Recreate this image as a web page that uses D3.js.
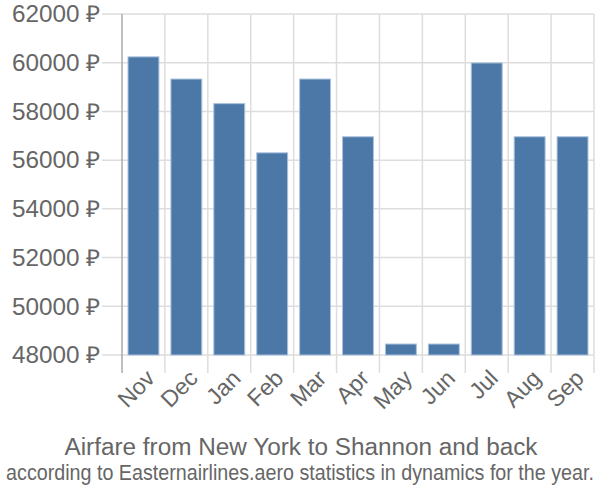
<!DOCTYPE html>
<html><head><meta charset="utf-8">
<script src="https://cdn.jsdelivr.net/npm/d3@7"></script>
<style>body{margin:0;background:#fff}svg{display:block;font-family:"Liberation Sans",Arial,sans-serif}</style>
</head><body><svg id="c" width="600" height="500"></svg>
<script>
const months = ["Nov","Dec","Jan","Feb","Mar","Apr","May","Jun","Jul","Aug","Sep"];
const prices = [60240,59330,58320,56300,59330,56960,48450,48450,59990,56960,56960];
const yTicks = [48000,50000,52000,54000,56000,58000,60000,62000];
const title = "Airfare from New York to Shannon and back";
const subtitle = "according to Easternairlines.aero statistics in dynamics for the year.";

const svg = d3.select("#c");
const L=122,R=594,T=14,B=355;
const x = d3.scaleBand().domain(months).range([L,R]).paddingInner(0.28).paddingOuter(0.14);
const xg = d3.scaleBand().domain(months).range([L,R]);
const y = d3.scaleLinear().domain([48000,62000]).range([B,T]);

// horizontal grid
svg.append("g").selectAll("line").data(yTicks).join("line")
  .attr("x1",102).attr("x2",R).attr("y1",d=>y(d)).attr("y2",d=>y(d))
  .attr("stroke","#ddd").attr("stroke-width",1.5);
// vertical grid
const vx = months.map(m=>xg(m)).concat([R]);
svg.append("g").selectAll("line").data(vx.slice(1)).join("line")
  .attr("x1",d=>d).attr("x2",d=>d).attr("y1",T).attr("y2",B+18)
  .attr("stroke","#ddd").attr("stroke-width",1.5);
// left axis line
svg.append("line").attr("x1",L).attr("x2",L).attr("y1",T).attr("y2",B+18)
  .attr("stroke","#aaa").attr("stroke-width",1.5);

// bars
svg.append("g").selectAll("rect").data(months).join("rect")
  .attr("x",d=>x(d)).attr("width",x.bandwidth())
  .attr("y",(d,i)=>y(prices[i])).attr("height",(d,i)=>B-y(prices[i]))
  .attr("fill","#4c78a8").attr("stroke","#a9c1dc").attr("stroke-width",1);

// y labels
svg.append("g").selectAll("text").data(yTicks).join("text")
  .attr("x",100).attr("y",d=>y(d)).attr("dy","0.36em").attr("text-anchor","end")
  .attr("font-size",23).attr("fill","#666")
  .attr("textLength",88).attr("lengthAdjust","spacingAndGlyphs").text(d=>d+" ₽");

// x labels
svg.append("g").selectAll("text").data(months).join("text")
  .attr("transform",d=>`translate(${x(d)+x.bandwidth()/2+7},${B+19}) rotate(-45)`)
  .attr("text-anchor","end").attr("dy","0.35em")
  .attr("font-size",23).attr("fill","#666").text(d=>d);

svg.append("text").attr("x",301).attr("y",455).attr("text-anchor","middle")
  .attr("font-size",23).attr("fill","#666")
  .attr("textLength",473).attr("lengthAdjust","spacingAndGlyphs").text(title);
const sub = svg.append("text").attr("text-anchor","middle")
  .attr("font-size",22).attr("fill","#666").text(subtitle);
const w = sub.node().getComputedTextLength();
sub.attr("transform",`translate(300,480) scale(${588/w},1)`);
</script></body></html>
